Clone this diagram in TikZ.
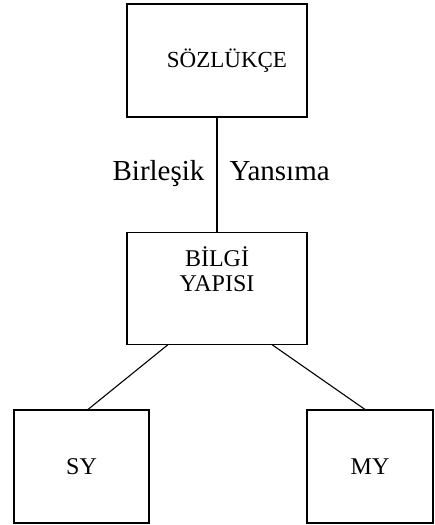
\documentclass[tikz,border=0pt]{standalone}
\usepackage{fontspec}
\setmainfont{Liberation Serif}
\usetikzlibrary{positioning}

\tikzset{
  kutu/.style={draw, rectangle, line width=1.1pt, inner sep=0pt,
    minimum width=180pt, minimum height=113pt,
    font=\fontsize{23}{26}\selectfont},
  yan/.style={font=\fontsize{29}{32}\selectfont, inner sep=12pt,
    text height=20pt, text depth=8pt}
}

\begin{document}
\begin{tikzpicture}[auto, x=1pt, y=-1pt]
\useasboundingbox (0,0) rectangle (434,525);
\node[kutu] (sozluk) at (217,60.5) {\hspace*{20pt}SÖZLÜKÇE};
\node[kutu, minimum height=112pt, align=center, text depth=38pt,
  font=\fontsize{24}{25}\selectfont] (bilgi) [below=114pt of sozluk] {BİLGİ\\YAPISI};
\node[kutu, minimum width=135pt, font=\fontsize{24}{28}\selectfont] (sy) at (81.5,466.5) {SY};
\node[kutu, minimum width=126pt, font=\fontsize{24}{28}\selectfont] (my) at (370,466.5) {MY};
\path[draw, line width=1.1pt]
(sozluk) edge node[yan, swap] {Birleşik} node[yan] {Yansıma} (bilgi)
([xshift=-49pt]bilgi.south) edge ([xshift=6.5pt]sy.north)
([xshift=55pt]bilgi.south) edge ([xshift=-5pt]my.north);
\end{tikzpicture}
\end{document}
